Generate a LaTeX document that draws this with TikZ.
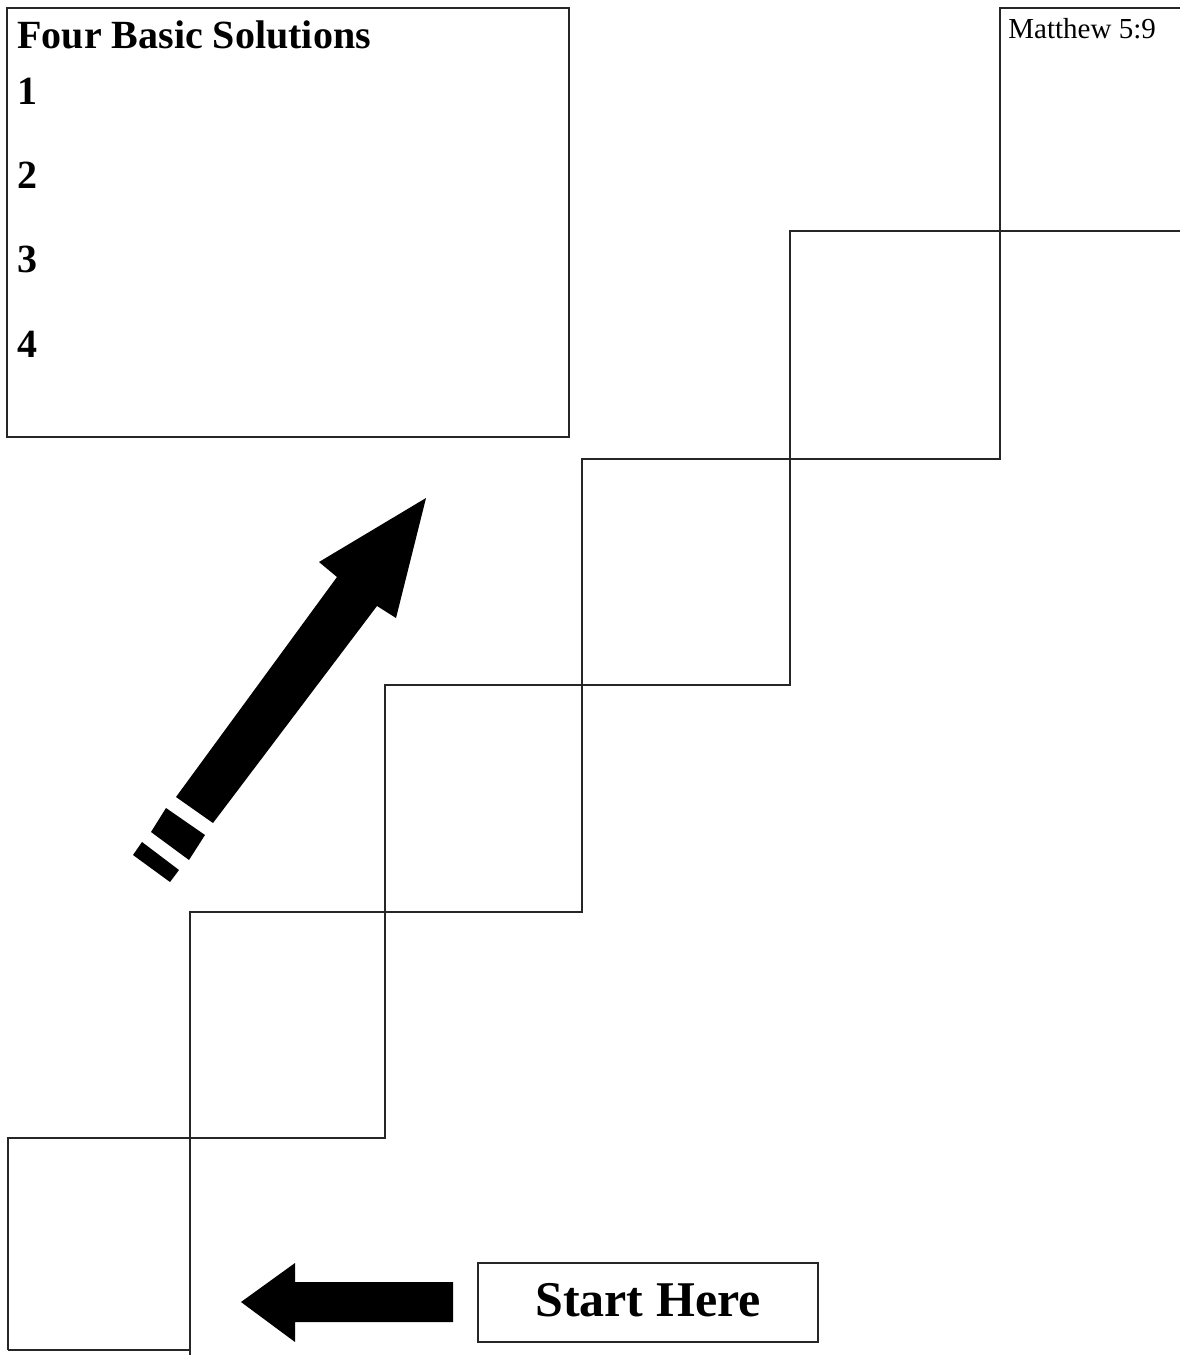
\documentclass[tikz,border=0pt]{standalone}
\usepackage{fontspec}
\setmainfont{Liberation Serif}
\begin{document}
\begin{tikzpicture}[x=0.5pt,y=-0.5pt,
  stair/.style={draw=black!85, line width=1pt, line join=miter},
  boxline/.style={draw=black!85, line width=0.9pt},
  bigarrow/.style={fill=black, draw=none},
  listnum/.style={anchor=base west, inner sep=0pt, font=\fontsize{20}{24}\selectfont\bfseries},
]
\useasboundingbox (0,0) rectangle (1180,1355);
\fill[white] (0,0) rectangle (1180,1355);

% staircases
\draw[stair] (8,1350) -- (8,1138) -- (385,1138) -- (385,685) -- (790,685) -- (790,231) -- (1180,231);
\draw[stair] (190,1355) -- (190,912) -- (582,912) -- (582,459) -- (1000,459) -- (1000,8) -- (1180,8);
\draw[stair, line width=1.4pt] (8,1350) -- (190,1350);

% solutions box
\draw[boxline] (7,8) rectangle (569,437);
\node[listnum] (title) at (17,48) {Four Basic Solutions};
\node[listnum] (n1) at (17,104) {1};
\node[listnum] (n2) at (17,188) {2};
\node[listnum] (n3) at (17,272) {3};
\node[listnum] (n4) at (17,357) {4};

% Matthew
\node[anchor=base west, inner sep=0pt, font=\fontsize{14.5}{17}\selectfont] (matt) at (1008,38) {Matthew 5:9};

% start here box
\draw[boxline] (478,1263) rectangle (818,1342);
\node[inner sep=0pt, font=\fontsize{25}{30}\selectfont\bfseries] (start) at (648,1300) {Start Here};

% left arrow
\fill[bigarrow] (241,1302) -- (295,1263) -- (295,1282) -- (453,1282) -- (453,1322) -- (295,1322) -- (295,1342) -- cycle;

% diagonal arrow
\fill[bigarrow] (426,498) -- (396,618) -- (377,606) -- (213,823) -- (176,797) -- (337,577) -- (319,562) -- cycle;
\fill[bigarrow] (166,808) -- (205,835) -- (189,860) -- (151,832) -- cycle;
\fill[bigarrow] (142,842) -- (179,870) -- (170,882) -- (133,855) -- cycle;
\end{tikzpicture}
\end{document}
